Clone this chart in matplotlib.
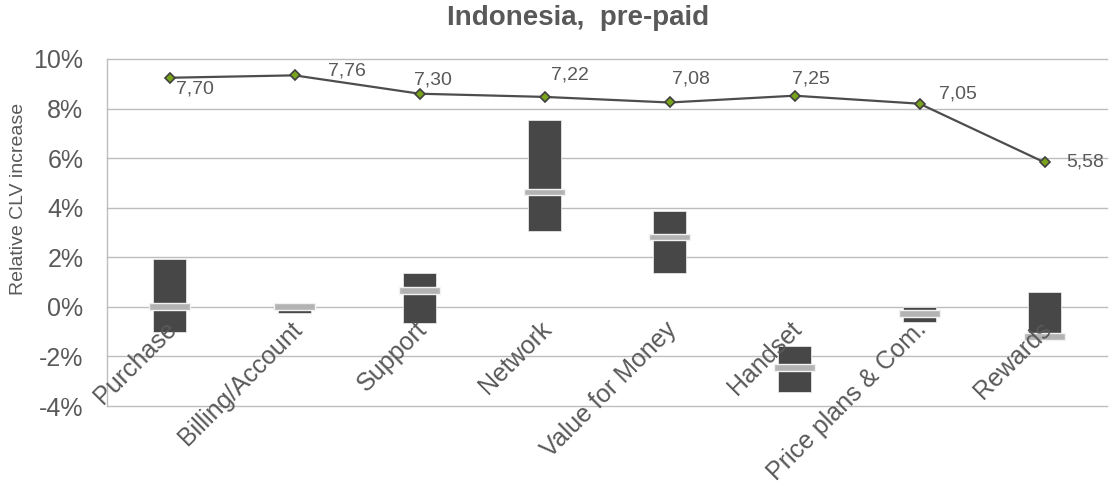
import numpy as np
import matplotlib.pyplot as plt
from matplotlib.ticker import FuncFormatter

plt.rcParams['font.family'] = ['Liberation Sans', 'DejaVu Sans']

# data
categories = ['Purchase', 'Billing/Account', 'Support', 'Network',
              'Value for Money', 'Handset', 'Price plans & Com.', 'Rewards']
clv_low = [-1.00, -0.26, -0.67, 3.06, 1.36, -3.42, -0.62, -1.05]
clv_high = [1.92, 0.00, 1.38, 7.53, 3.88, -1.59, -0.02, 0.60]
clv_median = [0.02, 0.02, 0.66, 4.64, 2.82, -2.45, -0.28, -1.20]
scores = [7.70, 7.76, 7.30, 7.22, 7.08, 7.25, 7.05, 5.58]
score_labels = ['7,70', '7,76', '7,30', '7,22', '7,08', '7,25', '7,05', '5,58']

# label offsets for the score line (points)
label_offsets = [(5, -8), (24, 3), (-4, 10), (5, 15.5), (2, 17), (-1.5, 12), (14, 7), (16, 0)]

text_col = '#595959'
grid_col = '#bdbdbd'

fig = plt.figure(figsize=(11.09, 4.9), dpi=100)
ax = fig.add_axes([0.0965, 0.1714, 0.9017, 0.7082])

x = np.arange(len(categories))
low = np.array(clv_low)
high = np.array(clv_high)
med = np.array(clv_median)

ax.bar(x, high - low, 0.27, bottom=low, color='#474747',
       edgecolor='#e6e6e6', linewidth=0.6, zorder=3)
mh = 0.27
ax.bar(x, mh, 0.33, bottom=med - mh / 2, color='#b3b3b3',
       edgecolor='#f2f2f2', linewidth=1.0, zorder=4)

ax.set_xlim(-0.5, len(categories) - 0.5)
ax.set_ylim(-4, 10)
ax.set_yticks(np.arange(-4, 11, 2))
ax.yaxis.set_major_formatter(FuncFormatter(lambda v, p: f'{v:.0f}%'))
ax.tick_params(axis='y', length=0, pad=17, labelsize=18, labelcolor=text_col)
ax.set_xticks([])
ax.grid(axis='y', color=grid_col, linewidth=1.0, zorder=0)
for gl in ax.get_ygridlines():
    gl.set_clip_on(False)
for s in ['top', 'right', 'bottom']:
    ax.spines[s].set_visible(False)
ax.spines['left'].set_color(grid_col)
ax.spines['left'].set_linewidth(1.0)

# category labels hang below the zero line
for i, name in enumerate(categories):
    ax.annotate(name, xy=(i, 0), xytext=(8.5, -7.5), textcoords='offset points',
                rotation=45, ha='right', va='top', fontsize=18, color=text_col,
                zorder=5)

# score line on a hidden secondary scale
ax2 = ax.twinx()
ax2.set_ylim(-0.526, 8.17)
ax2.axis('off')
ax2.plot(x, scores, color='#4d4d4d', linewidth=1.6, marker='D', markersize=5.5,
         markerfacecolor='#7aa31c', markeredgecolor='#404040',
         markeredgewidth=1.2, zorder=6)
for i, (v, lab) in enumerate(zip(scores, score_labels)):
    ax2.annotate(lab, xy=(i, v), xytext=label_offsets[i], textcoords='offset points',
                 ha='left', va='center', fontsize=14, color=text_col)

fig.text(0.0165, 0.594, 'Relative CLV increase', rotation=90, ha='center',
         va='center', fontsize=14, color=text_col)
fig.text(0.521, 0.963, 'Indonesia,  pre-paid', ha='center', va='center',
         fontsize=20, fontweight='bold', color=text_col)

fig.savefig('out.png', dpi=100)
